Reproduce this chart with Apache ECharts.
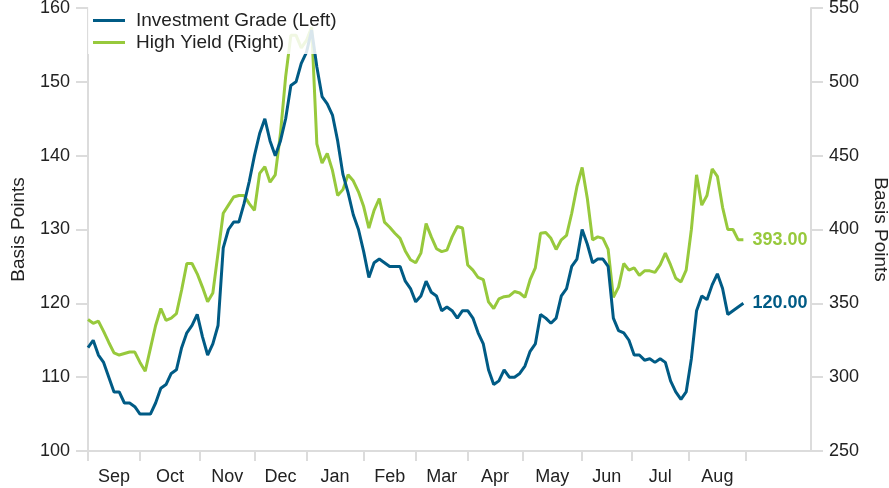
<!DOCTYPE html>
<html>
<head>
<meta charset="utf-8">
<script src="https://cdn.jsdelivr.net/npm/echarts@6/dist/echarts.min.js"></script>
<style>
  html, body { margin: 0; padding: 0; background: #fff; }
  #chart { width: 889px; height: 488px; }
</style>
</head>
<body>
<div id="chart"></div>
<script>
// trading days per month, Sep .. Aug
const monthNames = ['Sep', 'Oct', 'Nov', 'Dec', 'Jan', 'Feb', 'Mar', 'Apr', 'May', 'Jun', 'Jul', 'Aug']
const monthDays = [20, 23, 21, 20, 22, 20, 20, 21, 23, 19, 22, 22]
// one reading every 2 trading days
const sampleStep = 2

const igSpread = [
  114, 115, 113, 112, 110, 108, 108, 106.5, 106.5, 106,
  105, 105, 105, 106.5, 108.5, 109, 110.5, 111, 114, 116,
  117, 118.5, 115.5, 113, 114.5, 117, 127.5, 130, 131, 131,
  133.5, 136.5, 140, 143, 145, 142, 140, 142, 145, 149.5,
  150, 152.5, 154, 157, 152, 148, 147, 145.5, 142, 137.5,
  135, 132, 130, 127, 123.5, 125.5, 126, 125.5, 125, 125,
  125, 123, 122, 120.2, 121, 123, 121.5, 121, 119, 119.5,
  119, 118, 119, 119, 118, 116, 114.5, 111, 109, 109.5,
  111, 110, 110, 110.5, 111.5, 113.5, 114.5, 118.5, 118, 117.3,
  118, 121, 122, 125, 126, 130, 128, 125.5, 126, 126,
  125, 118, 116.3, 116, 115, 113, 113, 112.3, 112.5, 112,
  112.5, 112, 109.5, 108, 107, 108, 112.5, 119, 121, 120.5,
  122.5, 124, 122, 118.5, 119, 119.5, 120
]

const hySpread = [
  339, 336.5, 338, 331, 323.5, 316.5, 315, 316, 317, 317,
  310, 304, 319.5, 335, 346.5, 338.5, 340, 343, 359, 377,
  377, 370, 361, 351, 357, 384, 411, 416.5, 422, 423,
  423, 417.5, 413, 438, 442.5, 432, 437, 465, 503.5, 531.5,
  531.5, 523, 528, 537, 458, 445, 451.5, 440, 423, 427,
  437, 433, 425.5, 415.5, 401, 413, 421, 405, 401.5, 397.5,
  394, 385.5, 379.5, 377.5, 384, 404, 395, 387, 385, 386,
  395, 402, 401, 376, 372.5, 367.5, 366, 351, 346.5, 353,
  354.5, 355, 358, 357, 354, 366, 374, 397.5, 398, 394,
  386.5, 393, 396, 411, 429, 442, 421, 393, 395, 394,
  386.5, 354, 361, 377, 372.5, 374, 369, 372, 372, 371,
  376, 384, 376, 367, 364.5, 372.5, 400, 437, 416.5, 423,
  441, 436, 415, 400, 400, 393, 393
]

const leftTicks = { min: 100, max: 160, interval: 10 }
const rightTicks = { min: 250, max: 550, interval: 50 }

const igColor = '#005b85'
const hyColor = '#97c93c'
const axisColor = '#dcdcdc'
const font = 'Liberation Sans, Arial, sans-serif'

// month boundaries and mid-month label positions in trading days
const monthStarts = [0]
monthDays.forEach(d => monthStarts.push(monthStarts[monthStarts.length - 1] + d))
const labelPos = monthDays.map((d, i) => monthStarts[i] + d / 2)

const toPairs = arr => arr.map((v, i) => [i * sampleStep, v])

const chart = echarts.init(document.getElementById('chart'))

const yAxisBase = {
  type: 'value',
  nameLocation: 'middle',
  nameTextStyle: { color: '#222', fontSize: 19, fontFamily: font },
  axisLine: { show: true, lineStyle: { color: axisColor, width: 2 } },
  axisTick: { show: true, length: 12, lineStyle: { color: axisColor, width: 2 } },
  axisLabel: { color: '#222', fontSize: 18, fontFamily: font, margin: 18 },
  splitLine: { show: false }
}

const endLabel = color => ({
  show: true,
  distance: 9,
  color: color,
  fontSize: 18,
  fontWeight: 'bold',
  fontFamily: font,
  formatter: p => p.value[1].toFixed(2)
})

chart.setOption({
  animation: false,
  textStyle: { fontFamily: font },
  grid: { left: 88, right: 78, top: 8, bottom: 37, outerBoundsMode: 'none' },
  legend: {
    orient: 'vertical',
    left: 88,
    top: 0,
    padding: [11, 8, 2, 5],
    backgroundColor: 'rgba(255,255,255,0.85)',
    icon: 'rect',
    itemWidth: 32,
    itemHeight: 3,
    itemGap: 3,
    textStyle: { color: '#222', fontSize: 19, fontFamily: font, padding: [0, 0, 0, 6] },
    data: ['Investment Grade (Left)', 'High Yield (Right)']
  },
  xAxis: {
    type: 'value',
    min: 0,
    max: 278,
    axisLine: { show: true, onZero: false, lineStyle: { color: axisColor, width: 2 } },
    axisTick: { show: true, length: 10, customValues: monthStarts, lineStyle: { color: axisColor, width: 2 } },
    axisLabel: {
      customValues: labelPos,
      color: '#222',
      fontSize: 18,
      fontFamily: font,
      margin: 17,
      formatter: v => monthNames[labelPos.indexOf(v)] || ''
    },
    splitLine: { show: false }
  },
  yAxis: [
    Object.assign({}, yAxisBase, {
      position: 'left',
      name: 'Basis Points',
      nameRotate: 90,
      nameGap: 60,
      min: leftTicks.min,
      max: leftTicks.max,
      interval: leftTicks.interval
    }),
    Object.assign({}, yAxisBase, {
      position: 'right',
      name: 'Basis Points',
      nameRotate: -90,
      nameGap: 60,
      min: rightTicks.min,
      max: rightTicks.max,
      interval: rightTicks.interval
    })
  ],
  series: [
    {
      name: 'High Yield (Right)',
      type: 'line',
      yAxisIndex: 1,
      data: toPairs(hySpread),
      showSymbol: false,
      symbol: 'none',
      color: hyColor,
      lineStyle: { color: hyColor, width: 3 },
      endLabel: endLabel(hyColor)
    },
    {
      name: 'Investment Grade (Left)',
      type: 'line',
      yAxisIndex: 0,
      data: toPairs(igSpread),
      showSymbol: false,
      symbol: 'none',
      color: igColor,
      lineStyle: { color: igColor, width: 3 },
      endLabel: endLabel(igColor)
    }
  ]
})
</script>
</body>
</html>
